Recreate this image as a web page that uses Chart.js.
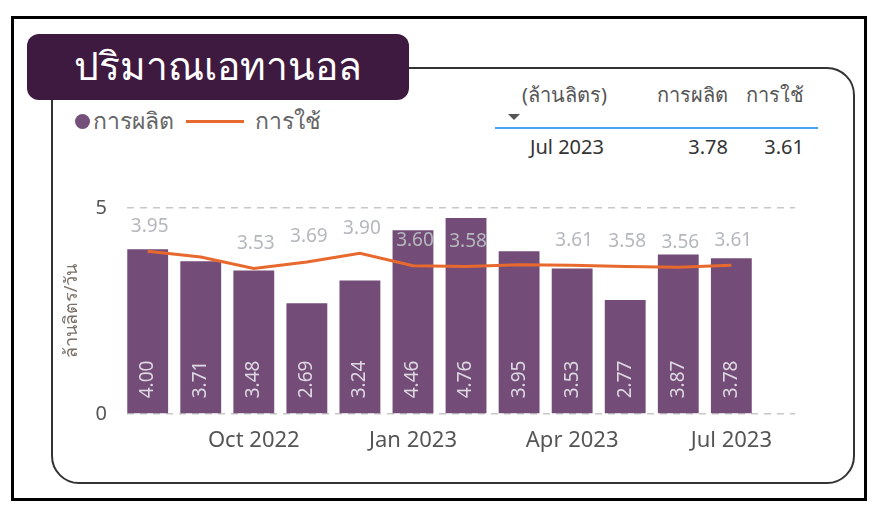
<!DOCTYPE html>
<html>
<head>
<meta charset="utf-8">
<script src="https://cdn.jsdelivr.net/npm/chart.js@4.4.0/dist/chart.umd.min.js"></script>
<style>
  body { margin: 0; background: #fff; font-family: "Noto Sans", "DejaVu Sans", sans-serif; }
  .page { position: relative; width: 884px; height: 513px; overflow: hidden; }
  .frame { position: absolute; left: 11px; top: 16px; width: 850px; height: 479px; border: 3px solid #000; }
  .card { position: absolute; left: 51px; top: 67px; width: 800px; height: 413px; border: 2px solid #333; border-radius: 28px; }
  .title { position: absolute; left: 27px; top: 34px; width: 382px; height: 66px; background: #3f1a40; border-radius: 12px;
           color: #fff; font-size: 39px; line-height: 62px; padding-left: 47px; box-sizing: border-box; }
  .legend { position: absolute; left: 75px; top: 103px; font-size: 23px; color: #666; display: flex; align-items: center; }
  .dot { width: 15px; height: 15px; border-radius: 50%; background: #74507a; margin-right: 3px; }
  .dash { width: 58px; height: 3px; background: #e8692e; margin: 0 11px 0 12px; }
  .tbl { position: absolute; font-size: 20px; }
  .hdr { color: #555; }
  .row { color: #333; }
  .rule { position: absolute; left: 495px; top: 127px; width: 323px; height: 2px; background: #4aa3f0; }
  .tri { position: absolute; left: 508px; top: 114px; width: 0; height: 0; border-left: 6px solid transparent; border-right: 6px solid transparent; border-top: 6px solid #555; }
  #wrap { position: absolute; left: 55px; top: 176px; width: 760px; height: 289px; }
</style>
</head>
<body>
<div class="page">
  <div class="frame"></div>
  <div class="card"></div>
  <div class="title">ปริมาณเอทานอล</div>
  <div class="legend"><div class="dot"></div><span>การผลิต</span><div class="dash"></div><span>การใช้</span></div>
  <div class="tbl hdr" style="left:522px; top:79px;">(ล้านลิตร)</div>
  <div class="tbl hdr" style="right:156px; top:79px;">การผลิต</div>
  <div class="tbl hdr" style="right:80px; top:79px;">การใช้</div>
  <div class="tri"></div>
  <div class="rule"></div>
  <div class="tbl row" style="left:530px; top:133px;">Jul 2023</div>
  <div class="tbl row" style="right:156px; top:133px;">3.78</div>
  <div class="tbl row" style="right:80px; top:133px;">3.61</div>
  <div id="wrap"><canvas id="chart"></canvas></div>
</div>
<script>
// monthly data, Aug 2022 - Jul 2023 (million litres / day)
const months = ['Aug 2022', 'Sep 2022', 'Oct 2022', 'Nov 2022', 'Dec 2022', 'Jan 2023',
                'Feb 2023', 'Mar 2023', 'Apr 2023', 'May 2023', 'Jun 2023', 'Jul 2023'];
const production = [4.00, 3.71, 3.48, 2.69, 3.24, 4.46, 4.76, 3.95, 3.53, 2.77, 3.87, 3.78];
const usage = [3.95, 3.81, 3.53, 3.69, 3.90, 3.60, 3.58, 3.62, 3.61, 3.58, 3.56, 3.61];
const usageLabelHidden = [1, 7];   // labels not shown in the original (overlap)
const xTickMonths = [2, 5, 8, 11];
const yTicks = [0, 5];

const FONT = '"Noto Sans", "DejaVu Sans", sans-serif';

// draws the value labels: rotated inside bars, plain above the line
const valueLabels = {
  id: 'valueLabels',
  afterDatasetsDraw(chart) {
    const ctx = chart.ctx;
    const bars = chart.getDatasetMeta(1).data;
    const pts = chart.getDatasetMeta(0).data;
    ctx.save();
    ctx.font = '19px ' + FONT;
    ctx.fillStyle = 'rgba(226, 222, 230, 0.95)';
    ctx.textAlign = 'left';
    ctx.textBaseline = 'middle';
    bars.forEach((b, i) => {
      ctx.save();
      ctx.translate(b.x, b.base - 15);
      ctx.rotate(-Math.PI / 2);
      ctx.fillText(production[i].toFixed(2), 0, 0);
      ctx.restore();
    });
    ctx.fillStyle = '#b4b8bd';
    ctx.textAlign = 'center';
    pts.forEach((p, i) => {
      if (usageLabelHidden.includes(i)) return;
      ctx.fillText(usage[i].toFixed(2), p.x + 2, p.y - 25);
    });
    ctx.restore();
  }
};

new Chart(document.getElementById('chart'), {
  data: {
    datasets: [
      {
        type: 'line',
        label: 'การใช้',
        data: usage.map((v, i) => ({ x: i, y: v })),
        borderColor: '#e8692e',
        borderWidth: 3,
        pointRadius: 0,
        tension: 0,
        order: 0
      },
      {
        type: 'bar',
        label: 'การผลิต',
        data: production.map((v, i) => ({ x: i, y: v })),
        backgroundColor: '#734d78',
        barPercentage: 0.77,
        categoryPercentage: 1,
        order: 1
      }
    ]
  },
  options: {
    responsive: true,
    maintainAspectRatio: false,
    animation: false,
    layout: { padding: { top: 13, right: 20, left: 6, bottom: 0 } },
    plugins: { legend: { display: false }, tooltip: { enabled: false } },
    scales: {
      x: {
        type: 'linear',
        offset: false,
        min: -0.39,
        max: 12.2,
        grid: { display: false },
        border: { display: false },
        afterBuildTicks: (scale) => { scale.ticks = xTickMonths.map(v => ({ value: v })); },
        afterFit: (scale) => { scale.height = 51; },
        ticks: {
          color: '#555',
          font: { family: FONT, size: 22 },
          padding: 6,
          maxRotation: 0,
          autoSkip: false,
          callback: (v) => months[v]
        }
      },
      y: {
        min: 0,
        max: 5,
        afterBuildTicks: (scale) => { scale.ticks = yTicks.map(v => ({ value: v })); },
        afterFit: (scale) => { scale.width = 66; },
        grid: { color: '#c8c8c8', lineWidth: 1.5, drawTicks: false },
        border: { display: false, dash: [7, 6] },
        ticks: { color: '#555', font: { family: FONT, size: 20 }, padding: 20 },
        title: { display: true, text: 'ล้านลิตร/วัน', color: '#7a7068', font: { family: FONT, size: 18 }, padding: 0 }
      }
    }
  },
  plugins: [valueLabels]
});
</script>
</body>
</html>
